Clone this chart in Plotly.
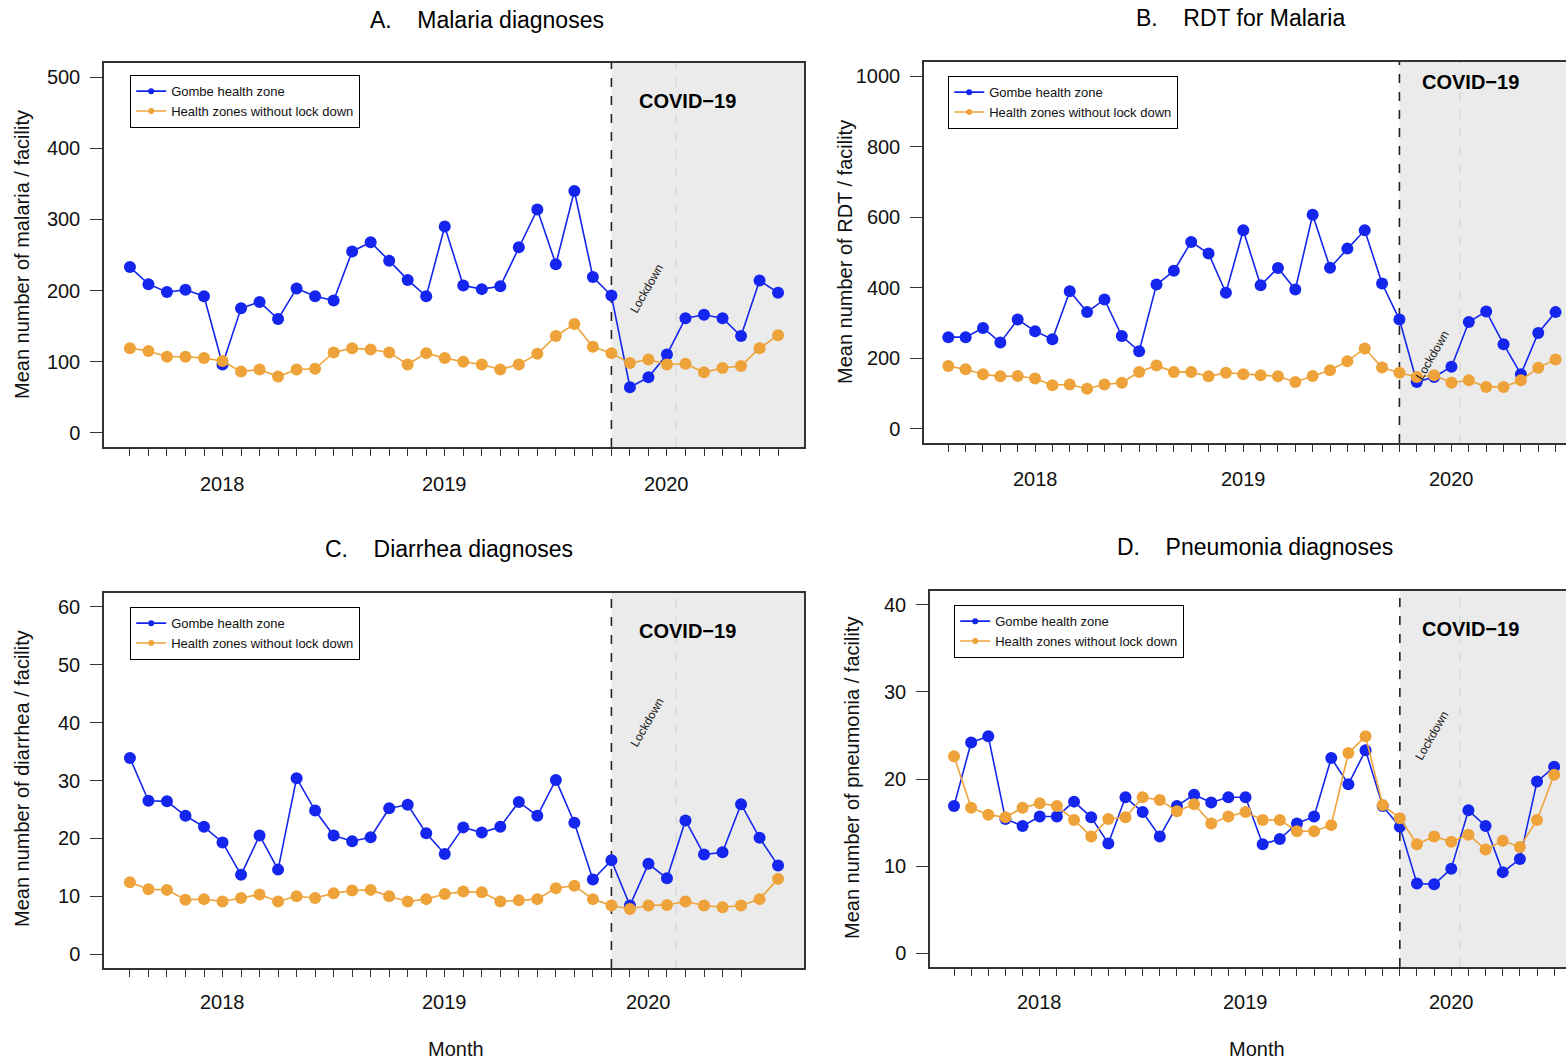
import plotly.graph_objects as go

# ---------------- data ----------------
month_index = list(range(36))          # monthly points, 2018 -> 2020
year_labels = ["2018", "2019", "2020"]
year_label_pos = [5, 17, 29]
year_label_pos_c = [5, 17, 28]
year_major_ticks = [0, 11, 23, 35]
year_major_ticks_c = [0, 11, 23, 33]
lockdown_index = 26
mid_covid_index = 29.5

malaria_gombe = [233, 209, 198, 201, 192, 96, 175, 184, 160, 203, 192, 186, 255, 268, 242, 215, 192, 290,
                 207, 202, 206, 261, 314, 237, 340, 219, 193, 64, 78, 110, 161, 166, 161, 136, 214, 197]
malaria_other = [119, 115, 107, 107, 105, 101, 86, 89, 79, 89, 90, 113, 119, 117, 113, 96, 112, 105,
                 100, 96, 89, 96, 111, 136, 153, 121, 112, 98, 103, 96, 97, 85, 91, 94, 119, 137]

rdt_gombe = [260, 260, 286, 245, 310, 277, 254, 390, 331, 367, 263, 220, 409, 448, 530, 497, 386, 563,
             407, 456, 395, 607, 457, 511, 563, 412, 310, 133, 147, 176, 303, 333, 240, 155, 272, 331]
rdt_other = [178, 169, 155, 149, 150, 143, 124, 126, 114, 126, 131, 161, 180, 161, 161, 149, 159, 155,
             152, 149, 133, 150, 166, 192, 228, 174, 159, 147, 152, 131, 138, 119, 119, 138, 173, 197]

diarrhea_gombe = [33.9, 26.5, 26.4, 23.9, 22.0, 19.3, 13.7, 20.5, 14.6, 30.4, 24.8, 20.5, 19.5, 20.2, 25.2, 25.8,
                  20.9, 17.3, 21.9, 21.0, 22.0, 26.3, 23.9, 30.1, 22.7, 12.9, 16.2, 8.4, 15.6, 13.1, 23.1, 17.2,
                  17.6, 25.9, 20.1, 15.3]
diarrhea_other = [12.4, 11.2, 11.1, 9.4, 9.5, 9.1, 9.7, 10.3, 9.1, 10.0, 9.7, 10.5, 11.0, 11.1, 10.0, 9.1,
                  9.5, 10.4, 10.8, 10.7, 9.1, 9.3, 9.5, 11.4, 11.8, 9.5, 8.4, 7.8, 8.4, 8.5, 9.1, 8.4,
                  8.1, 8.4, 9.5, 13.0]

pneumonia_gombe = [16.9, 24.2, 24.9, 15.4, 14.6, 15.7, 15.7, 17.4, 15.6, 12.6, 17.9, 16.2, 13.4, 16.9, 18.2, 17.3,
                   17.9, 17.9, 12.5, 13.1, 14.9, 15.7, 22.4, 19.4, 23.3, 16.9, 14.5, 8.0, 7.9, 9.7, 16.4, 14.6,
                   9.3, 10.8, 19.7, 21.4]
pneumonia_other = [22.6, 16.7, 15.9, 15.6, 16.7, 17.2, 16.9, 15.3, 13.4, 15.4, 15.6, 17.9, 17.6, 16.3, 17.1, 14.9,
                   15.7, 16.2, 15.3, 15.3, 14.0, 14.0, 14.7, 23.0, 24.9, 17.0, 15.5, 12.5, 13.4, 12.8, 13.6, 11.9,
                   12.9, 12.2, 15.3, 20.5]

series_names = ["Gombe health zone", "Health zones without lock down"]

# ---------------- style ----------------
W, H = 1566, 1061
FONT = "Liberation Sans, Arial, Helvetica, sans-serif"
BLUE = "#1426EE"
ORANGE = "#EEA33A"
BOX = "#333333"

def px(x):
    return x / W

def py(y):
    return 1 - y / H

panels = [
    dict(key="A", gombe=malaria_gombe, other=malaria_other,
         dom_x=(104, 804), dom_y=(63, 447), xr=(-1.4, 36.4), yr=(-20, 520), ytick=[0, 100, 200, 300, 400, 500],
         major=year_major_ticks, labpos=year_label_pos, lab_y=484, mirror_y=True,
         title="A.\u00a0\u00a0\u00a0\u00a0Malaria diagnoses", title_xy=(487, 20),
         ytitle="Mean number of malaria / facility", ytitle_xy=(22, 255),
         legend_xy=(130, 75), covid_y=466, lock_y=202),
    dict(key="B", gombe=rdt_gombe, other=rdt_other,
         dom_x=(924, 1566), dom_y=(62, 443), xr=(-1.4, 35.6), yr=(-40, 1040), ytick=[0, 200, 400, 600, 800, 1000],
         major=year_major_ticks, labpos=year_label_pos, lab_y=479, mirror_y=False,
         title="B.\u00a0\u00a0\u00a0\u00a0RDT for Malaria", title_xy=(1240, 18),
         ytitle="Mean number of RDT / facility", ytitle_xy=(845, 252),
         legend_xy=(948, 76), covid_y=983, lock_y=210),
    dict(key="C", gombe=diarrhea_gombe, other=diarrhea_other,
         dom_x=(104, 804), dom_y=(593, 968), xr=(-1.4, 36.4), yr=(-2.4, 62.4), ytick=[0, 10, 20, 30, 40, 50, 60],
         major=year_major_ticks_c, labpos=year_label_pos_c, lab_y=1002, mirror_y=True,
         title="C.\u00a0\u00a0\u00a0\u00a0Diarrhea diagnoses", title_xy=(449, 549),
         ytitle="Mean number of diarrhea / facility", ytitle_xy=(22, 779),
         legend_xy=(130, 607), covid_y=55.9, lock_y=40),
    dict(key="D", gombe=pneumonia_gombe, other=pneumonia_other,
         dom_x=(930, 1566), dom_y=(591, 967), xr=(-1.4, 35.69), yr=(-1.6, 41.6), ytick=[0, 10, 20, 30, 40],
         major=year_major_ticks, labpos=year_label_pos, lab_y=1002, mirror_y=False,
         title="D.\u00a0\u00a0\u00a0\u00a0Pneumonia diagnoses", title_xy=(1255, 547),
         ytitle="Mean number of pneumonia / facility", ytitle_xy=(852, 778),
         legend_xy=(954, 605), covid_y=37.2, lock_y=25),
]

fig = go.Figure()
layout = dict(width=W, height=H, autosize=False, margin=dict(l=0, r=0, t=0, b=0),
              paper_bgcolor="white", plot_bgcolor="white", font=dict(family=FONT, color="#111111"),
              showlegend=True)
shapes, annotations = [], []

for i, p in enumerate(panels):
    n = "" if i == 0 else str(i + 1)
    xa, ya = "x" + n, "y" + n
    leg = "legend" + n
    # real data traces
    fig.add_trace(go.Scatter(x=month_index, y=p["gombe"], mode="lines+markers", name=series_names[0],
                             line=dict(color=BLUE, width=1.6), marker=dict(color=BLUE, size=12),
                             xaxis=xa, yaxis=ya, showlegend=False))
    fig.add_trace(go.Scatter(x=month_index, y=p["other"], mode="lines+markers", name=series_names[1],
                             line=dict(color=ORANGE, width=1.6), marker=dict(color=ORANGE, size=12),
                             xaxis=xa, yaxis=ya, showlegend=False))
    # legend entries (small symbols like R legend)
    for nm, col in zip(series_names, [BLUE, ORANGE]):
        fig.add_trace(go.Scatter(x=[None], y=[None], mode="lines+markers", name=nm,
                                 line=dict(color=col, width=1.6), marker=dict(color=col, size=6),
                                 xaxis=xa, yaxis=ya, legend=leg, showlegend=True))
    layout[leg] = dict(x=px(p["legend_xy"][0]), y=py(p["legend_xy"][1]), xanchor="left", yanchor="top",
                       bgcolor="white", bordercolor="black", borderwidth=1.2,
                       font=dict(size=13, family=FONT, color="#111111"), itemwidth=30,
                       tracegroupgap=0)

    xkey = "xaxis" + n
    ykey = "yaxis" + n
    layout[xkey] = dict(domain=[px(p["dom_x"][0]), px(p["dom_x"][1])], range=list(p["xr"]),
                        anchor=ya, showgrid=False, zeroline=False, showline=True, mirror=True,
                        linecolor=BOX, linewidth=1.5,
                        tickmode="array", tickvals=p["major"], ticktext=["" for _ in p["major"]],
                        ticks="outside", ticklen=22, tickwidth=1.5, tickcolor=BOX,
                        minor=dict(tickmode="array", tickvals=list(range(0, p["major"][-1] + 1)),
                                   ticks="outside", ticklen=7, tickwidth=1.2, tickcolor=BOX, showgrid=False))
    layout[ykey] = dict(domain=[py(p["dom_y"][1]), py(p["dom_y"][0])], range=list(p["yr"]),
                        anchor=xa, showgrid=False, zeroline=False, showline=True, mirror=p["mirror_y"],
                        linecolor=BOX, linewidth=1.5,
                        tickmode="array", tickvals=p["ytick"], ticks="outside", ticklen=12,
                        tickwidth=1.2, tickcolor=BOX, ticklabelstandoff=6,
                        tickfont=dict(size=20, family=FONT, color="#111111"))

    ydom = ya + " domain"
    # COVID shaded region
    shapes.append(dict(type="rect", xref=xa, yref=ydom, x0=lockdown_index, x1=p["xr"][1], y0=0, y1=1,
                       fillcolor="#EBEBEB", line=dict(width=0), layer="below"))
    shapes.append(dict(type="line", xref=xa, yref=ydom, x0=mid_covid_index, x1=mid_covid_index, y0=0, y1=1,
                       line=dict(color="#D6D6D6", width=1.2, dash="dash"), layer="below"))
    shapes.append(dict(type="line", xref=xa, yref=ydom, x0=lockdown_index, x1=lockdown_index, y0=0, y1=1,
                       line=dict(color="#222222", width=1.6, dash="dash"), layer="below"))

    annotations.append(dict(text="<b>COVID\u221219</b>", xref=xa, yref=ya, x=30.1, y=p["covid_y"],
                            showarrow=False, font=dict(size=20, family=FONT, color="black")))
    annotations.append(dict(text="Lockdown", xref=xa, yref=ya, x=27.9, y=p["lock_y"], textangle=-60,
                            showarrow=False, font=dict(size=12, family=FONT, color="#222222")))
    for lab, pos in zip(year_labels, p["labpos"]):
        annotations.append(dict(text=lab, xref=xa, yref="paper", x=pos, y=py(p["lab_y"]),
                                showarrow=False, yanchor="middle",
                                font=dict(size=20, family=FONT, color="#111111")))
    annotations.append(dict(text=p["title"], xref="paper", yref="paper", x=px(p["title_xy"][0]),
                            y=py(p["title_xy"][1]), showarrow=False, yanchor="middle", xanchor="center",
                            font=dict(size=23, family=FONT, color="black")))
    annotations.append(dict(text=p["ytitle"], xref="paper", yref="paper", x=px(p["ytitle_xy"][0]),
                            y=py(p["ytitle_xy"][1]), showarrow=False, textangle=-90,
                            xanchor="center", yanchor="middle",
                            font=dict(size=20, family=FONT, color="#111111")))

for mx in (456, 1257):
    annotations.append(dict(text="Month", xref="paper", yref="paper", x=px(mx), y=py(1049), showarrow=False,
                            xanchor="center", yanchor="middle", font=dict(size=20, family=FONT, color="#111111")))

layout["shapes"] = shapes
layout["annotations"] = annotations
fig.update_layout(**layout)
fig.write_html("out.html",
               config={"displayModeBar": False},
               post_script="document.body.style.margin='0';document.body.style.padding='0';"
                           "document.documentElement.style.overflow='hidden';")
